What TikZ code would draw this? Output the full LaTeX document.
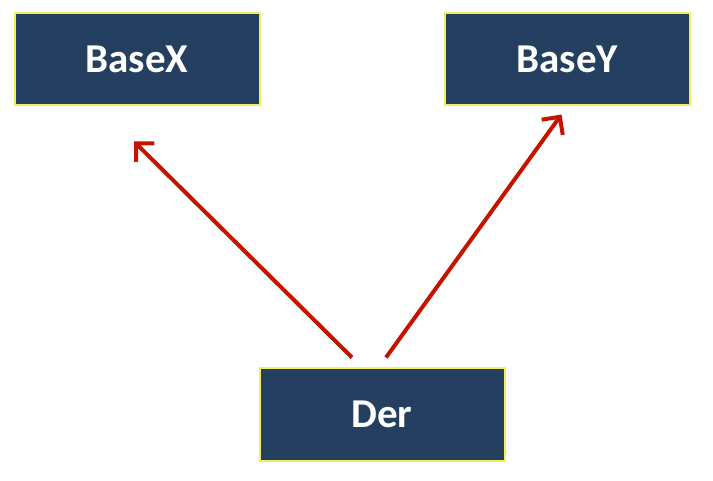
\documentclass[tikz,border=0pt]{standalone}
\usepackage{fontspec}
\setmainfont{Carlito}
\usetikzlibrary{arrows.meta}

\definecolor{boxblue}{RGB}{36,63,96}
\definecolor{boxline}{RGB}{240,240,90}
\definecolor{arrred}{RGB}{196,20,0}

\tikzset{
  classbox/.style={draw=boxline, line width=2pt, fill=boxblue, text=white,
    minimum width=245pt, minimum height=92pt,
    font=\fontsize{41}{46}\selectfont\bfseries},
  inherit/.style={draw=arrred, line width=4pt,
    -{Straight Barb[length=13pt, width=26pt, line width=4pt]}}
}

\begin{document}
\begin{tikzpicture}[x=1pt, y=-1pt]
          \useasboundingbox (0,0) rectangle (713,481);

          \node[classbox] (basex) at (137, 59.5) {BaseX};
          \node[classbox] (basey) at (567.5, 59.5) {BaseY};
          \node[classbox] (der) at (382, 414.5) {Der};

          \draw[inherit] ([xshift=-30pt, yshift=10pt]der.north) -- ([xshift=-3pt, yshift=-35pt]basex.south);
          \draw[inherit] ([xshift=4pt, yshift=10pt]der.north) -- ([xshift=-6pt, yshift=-8pt]basey.south);
        \end{tikzpicture}
\end{document}
